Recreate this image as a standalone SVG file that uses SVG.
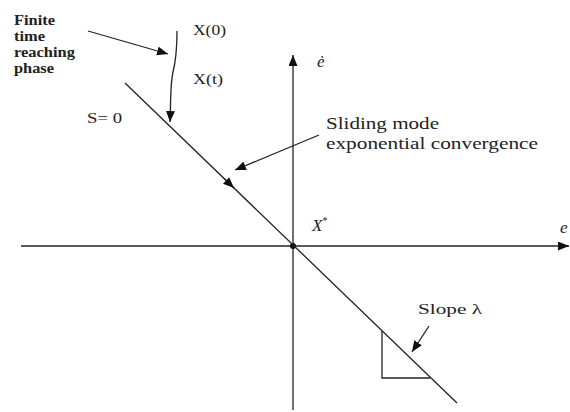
<svg xmlns="http://www.w3.org/2000/svg" width="570" height="412" viewBox="0 0 570 412">
<style>
.ln{stroke:#222;stroke-width:1.3;fill:none}
.t{font-family:"Liberation Serif","Times New Roman",serif;font-size:14px;fill:#222}
.b{font-weight:bold}
.i{font-style:italic}
</style>
<defs>
<marker id="ah" markerUnits="userSpaceOnUse" markerWidth="12" markerHeight="10" refX="11" refY="4.5" orient="auto">
<path d="M0,0 L11,4.5 L0,9 Z" fill="#111"/>
</marker>
</defs>
<rect width="570" height="412" fill="#fff"/>
<g id="axes">
<line class="ln" x1="21" y1="246" x2="569" y2="246" marker-end="url(#ah)"/>
<line class="ln" x1="293" y1="410" x2="293" y2="55" marker-end="url(#ah)"/>
<circle cx="293" cy="246" r="3" fill="#111"/>
</g>
<g id="connectors">
<line class="ln" x1="125" y1="83" x2="457" y2="403"/>
<line class="ln" x1="224" y1="178.4" x2="234" y2="188" marker-end="url(#ah)"/>
<path class="ln" d="M177,31 C177,45 176,60 173,72 C170,85 171,100 170,122" marker-end="url(#ah)"/>
<line class="ln" x1="88" y1="31" x2="168" y2="54" marker-end="url(#ah)"/>
<line class="ln" x1="319" y1="135" x2="235" y2="170" marker-end="url(#ah)"/>
<line class="ln" x1="429" y1="326" x2="412" y2="352" marker-end="url(#ah)"/>
<polyline class="ln" points="382,331 382,378 430,378"/>
</g>
<g id="label-reaching">
<text class="t b" x="14" y="25" textLength="41" lengthAdjust="spacingAndGlyphs">Finite</text>
<text class="t b" x="14" y="41" textLength="31" lengthAdjust="spacingAndGlyphs">time</text>
<text class="t b" x="14" y="57" textLength="61" lengthAdjust="spacingAndGlyphs">reaching</text>
<text class="t b" x="14" y="73" textLength="40" lengthAdjust="spacingAndGlyphs">phase</text>
</g>
<g id="label-x0"><text class="t" x="193" y="35" textLength="33" lengthAdjust="spacingAndGlyphs">X(0)</text></g>
<g id="label-xt"><text class="t" x="193" y="84" textLength="30" lengthAdjust="spacingAndGlyphs">X(t)</text></g>
<g id="label-s0"><text class="t" x="87" y="123" textLength="35" lengthAdjust="spacingAndGlyphs">S= 0</text></g>
<g id="label-edot"><text class="t i" x="317" y="67" style="font-size:17px">ė</text></g>
<g id="label-xstar"><text class="t i" x="312" y="231" style="font-size:17px">X<tspan dy="-7" style="font-size:10px;font-style:normal">*</tspan></text></g>
<g id="label-e"><text class="t i" x="560" y="233" style="font-size:17px">e</text></g>
<g id="label-sliding">
<text class="t" x="326" y="129" style="font-size:17px" textLength="113" lengthAdjust="spacingAndGlyphs">Sliding mode</text>
<text class="t" x="326" y="149" style="font-size:17px" textLength="212" lengthAdjust="spacingAndGlyphs">exponential convergence</text>
</g>
<g id="label-slope"><text class="t" x="418" y="314" style="font-size:15px" textLength="64" lengthAdjust="spacingAndGlyphs">Slope λ</text></g>
</svg>
